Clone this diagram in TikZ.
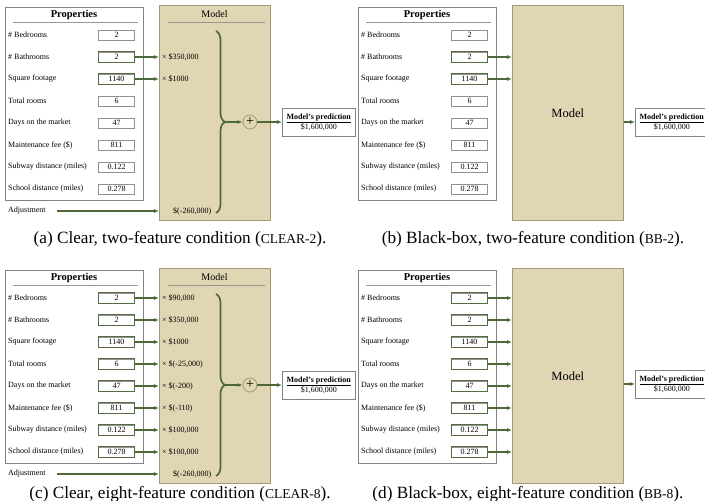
\documentclass[tikz,border=0pt]{standalone}
\usepackage{fontspec}
\setmainfont{Liberation Serif}
\usetikzlibrary{arrows.meta, positioning, decorations.pathreplacing, calc}

\definecolor{modeltan}{RGB}{224,214,180}
\definecolor{modeledge}{RGB}{165,152,120}
\definecolor{linkgreen}{RGB}{78,104,54}
\definecolor{framegray}{RGB}{130,130,130}
\definecolor{boxgray}{RGB}{145,145,145}
\definecolor{rulegray}{RGB}{150,150,150}

\newcommand{\condname}[1]{{\fontsize{13.5}{14}\selectfont #1}}

\begin{document}
\begin{tikzpicture}[x=1pt, y=-1pt, font=\fontsize{8}{10}\selectfont,
	rowtext/.style={anchor=west, inner sep=0pt},
	headtext/.style={font=\fontsize{10.5}{12}\selectfont\bfseries},
	modelhead/.style={font=\fontsize{10}{12}\selectfont},
	props/.style={draw=framegray, line width=0.6pt, anchor=north west, minimum width=138pt, minimum height=193pt},
	valbox/.style={draw=boxgray, line width=0.5pt, minimum width=36pt, minimum height=10pt, inner sep=0pt},
	usededge/.style={draw=linkgreen!85!gray, line width=0.7pt},
	model/.style={draw=modeledge, fill=modeltan, line width=0.6pt, anchor=north west, minimum width=111pt, minimum height=215pt},
	sepline/.style={draw=rulegray, line width=0.6pt},
	link/.style={draw=linkgreen, line width=1.1pt, -{Latex[length=5pt, width=4pt]}},
	bigbrace/.style={draw=linkgreen, line width=1.7pt, decorate, decoration={brace, amplitude=9pt}},
	sum/.style={circle, draw=modeledge, fill=modeltan, line width=0.8pt, minimum size=14pt, inner sep=0pt, font=\fontsize{14}{14}\selectfont},
	pred/.style={draw=framegray, line width=0.6pt, anchor=west, align=center, minimum width=73pt, minimum height=28pt, inner sep=2pt},
	capt/.style={anchor=base, font=\fontsize{17.2}{20}\selectfont}]

	\useasboundingbox (0,0) rectangle (705,501);
	\clip (0,0) rectangle (705,501);

	% model boxes first, so the arrows lie on top of them
	\node[model] (aModel) at (159,5) {};
	\node[model] (cModel) at (159,268) {};
	\node[model, font=\fontsize{12.5}{14}\selectfont] (bModel) at (512,5) {Model};
	\node[model, font=\fontsize{12.5}{14}\selectfont] (dModel) at (512,268) {Model};

	% property lists
	\foreach \p/\dx/\dy in {a/0/0, b/353/0, c/0/263, d/353/263} {
		\node[props] (\p Props) at (5+\dx,7+\dy) {};
		\node[headtext] (\p Head) at (74+\dx,15+\dy) {Properties};
		\draw[sepline] (13+\dx,22+\dy) -- (138+\dx,22+\dy);
		\foreach \i/\lab/\val in {1/\# Bedrooms/2, 2/\# Bathrooms/2, 3/Square footage/1140, 4/Total rooms/6, 5/Days on the market/47, 6/Maintenance fee (\$)/811, 7/Subway distance (miles)/0.122, 8/School distance (miles)/0.278} {
			\node[rowtext] (\p Lab\i) at (8+\dx,13+22*\i+\dy) {\lab};
			\node[valbox] (\p Val\i) at (116.5+\dx,13+22*\i+\dy) {\val};
		}
	}

	% features that go into the model
	\foreach \p in {a,b} \foreach \i in {2,3} {
		\draw[usededge] (\p Val\i.south west) rectangle (\p Val\i.north east);
		\draw[link] (\p Val\i.east) -- (\p Val\i.east -| \p Model.west);
	}
	\foreach \p in {c,d} \foreach \i in {1,...,8} {
		\draw[usededge] (\p Val\i.south west) rectangle (\p Val\i.north east);
		\draw[link] (\p Val\i.east) -- (\p Val\i.east -| \p Model.west);
	}

	% weights of the clear models
	\foreach \p/\i/\w in {a/2/{\$350,000}, a/3/{\$1000}, c/1/{\$90,000}, c/2/{\$350,000}, c/3/{\$1000}, c/4/{\$(-25,000)}, c/5/{\$(-200)}, c/6/{\$(-110)}, c/7/{\$100,000}, c/8/{\$100,000}}
		\node[rowtext] (\p W\i) at ($(\p Val\i.east -| \p Model.west)+(3,0)$) {× \w};

	\foreach \p/\y in {a/211, c/474} {
		\node[rowtext] (\p Adj) at (8,\y) {Adjustment};
		\coordinate (\p AdjStart) at (57,\y);
		\draw[link] (\p AdjStart) -- (\p AdjStart -| \p Model.west);
		\node[rowtext] (\p Bias) at (173,\y) {\$(-260,000)};
	}

	% sum and prediction, clear models
	\foreach \p/\y in {a/122, c/385} {
		\node[modelhead] (\p ModelHead) at (214.5,\y-108) {Model};
		\draw[sepline] (168,\y-100) -- (265,\y-100);
		\draw[bigbrace] (216,\y-91) -- (216,\y+91);
		\coordinate (\p Tip) at (225,\y);
		\node[sum] (\p Sum) at (250,\y) {+};
		\node[pred] (\p Pred) at (282,\y) {\textbf{\underline{Model's prediction}}\\\$1,600,000};
		\draw[link] (\p Tip) -- (\p Sum);
		\draw[link] (\p Sum) -- (\p Pred);
	}

	% prediction, black-box models
	\foreach \p/\y in {b/122, d/384} {
		\node[pred] (\p Pred) at (635,\y) {\textbf{\underline{Model's prediction}}\\\$1,600,000};
		\draw[link] (\p Pred.west -| \p Model.east) -- (\p Pred);
	}

	\node[capt] (aCap) at (180,243) {(a) Clear, two-feature condition (\condname{CLEAR-2}).};
	\node[capt] (bCap) at (533,243) {(b) Black-box, two-feature condition (\condname{BB-2}).};
	\node[capt] (cCap) at (180,498) {(c) Clear, eight-feature condition (\condname{CLEAR-8}).};
	\node[capt] (dCap) at (528,498) {(d) Black-box, eight-feature condition (\condname{BB-8}).};
\end{tikzpicture}
\end{document}
